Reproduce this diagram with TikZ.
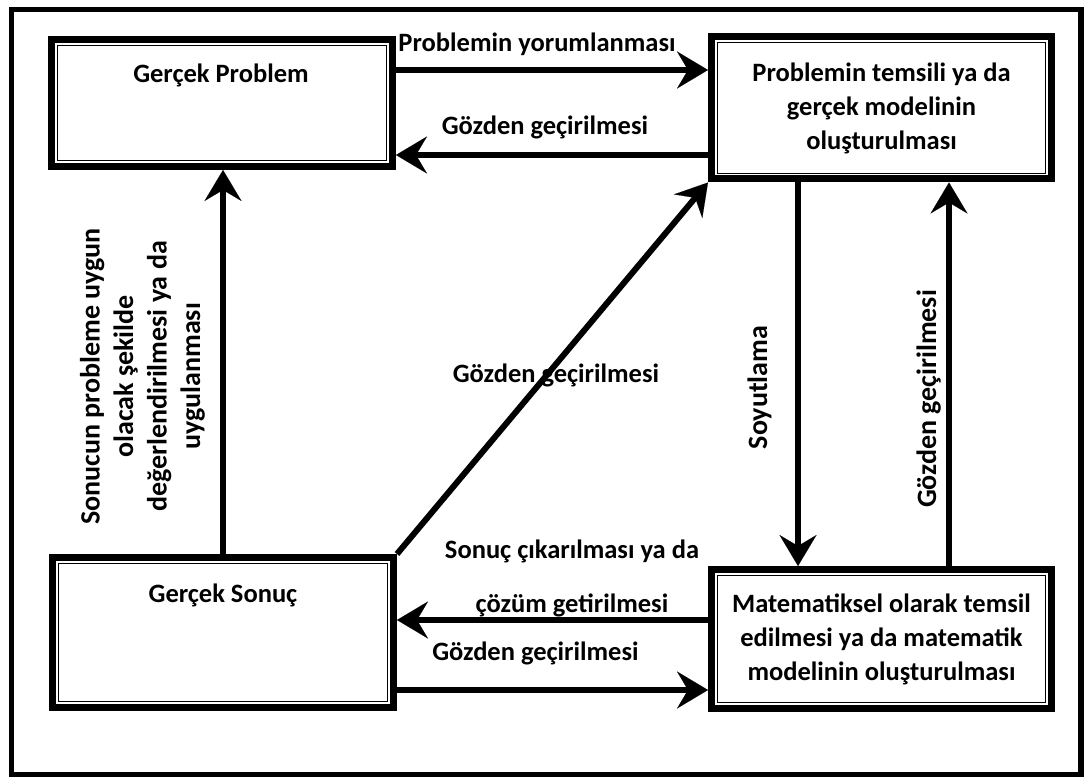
\documentclass[tikz,border=0pt]{standalone}
\usepackage{fontspec}
\setmainfont{Carlito}
\usetikzlibrary{arrows.meta}
\begin{document}
\begin{tikzpicture}[x=1pt,y=-1pt,
  box/.style={draw, line width=7pt, outer sep=3.5pt, inner sep=0pt,
    path picture={\draw[line width=1.3pt]
      ([xshift=5.8pt,yshift=-5.8pt]path picture bounding box.north west) rectangle
      ([xshift=-5.8pt,yshift=5.8pt]path picture bounding box.south east);}},
  lab/.style={font=\bfseries\fontsize{26.5}{34}\selectfont, inner sep=0pt},
  vlab/.style={font=\bfseries\fontsize{28}{33.5}\selectfont, inner sep=0pt, rotate=90},
  arr/.style={line width=6pt,
    -{Stealth[length=31pt,width=37pt,inset=11pt,line width=0.1pt]}}]
\useasboundingbox (0,0) rectangle (1086,778);
% outer frame
\draw[line width=5.5pt] (11.5,9.5) rectangle (1081,774.5);

% the four stages
\node[box, minimum width=341pt, minimum height=127pt] (gp) at (222,103) {};
\node[box, lab, align=center, minimum width=340pt, minimum height=142pt] (tr) at (881.5,108)
  {Problemin temsili ya da\\gerçek modelinin\\oluşturulması};
\node[box, minimum width=341pt, minimum height=150pt] (sl) at (223,632.5) {};
\node[box, lab, align=center, minimum width=340pt, minimum height=139pt] (br) at (881.5,639)
  {Matematiksel olarak temsil\\edilmesi ya da matematik\\modelinin oluşturulması};
\node[lab, anchor=base] (gpt) at (221,83) {Gerçek Problem};
\node[lab, anchor=base] (slt) at (223,602) {Gerçek Sonuç};

% connectors
\draw[arr] (gp.east |- 0,70) -- (tr.west |- 0,70);
\draw[arr] (tr.west |- 0,155) -- (gp.east |- 0,155);
\draw[arr] (br.west |- 0,620) -- (sl.east |- 0,620);
\draw[arr] (sl.east |- 0,690) -- (br.west |- 0,690);
\draw[arr] (sl.north) -- (sl.north |- gp.south);
\draw[arr] (tr.south -| 798,0) -- (br.north -| 798,0);
\draw[arr] (br.north -| 949,0) -- (tr.south -| 949,0);
\draw[arr] (sl.north east) -- (tr.south west);

% connector labels
\node[lab, anchor=base] (l1) at (537,52) {Problemin yorumlanması};
\node[lab, anchor=base] (l2) at (545,135) {Gözden geçirilmesi};
\node[lab, anchor=base] (l3) at (556,382) {Gözden geçirilmesi};
\node[lab, anchor=base] (l4a) at (572,558) {Sonuç çıkarılması ya da};
\node[lab, anchor=base] (l4b) at (572,612) {çözüm getirilmesi};
\node[lab, anchor=base] (l5) at (535.5,660) {Gözden geçirilmesi};
\node[vlab, anchor=base] (l6) at (767,387.5) {Soyutlama};
\node[vlab, anchor=base] (l7) at (936,399) {Gözden geçirilmesi};
\node[vlab, align=center] (l8) at (142.5,376.5)
  {Sonucun probleme uygun\\olacak şekilde\\değerlendirilmesi ya da\\uygulanması};
\end{tikzpicture}
\end{document}
